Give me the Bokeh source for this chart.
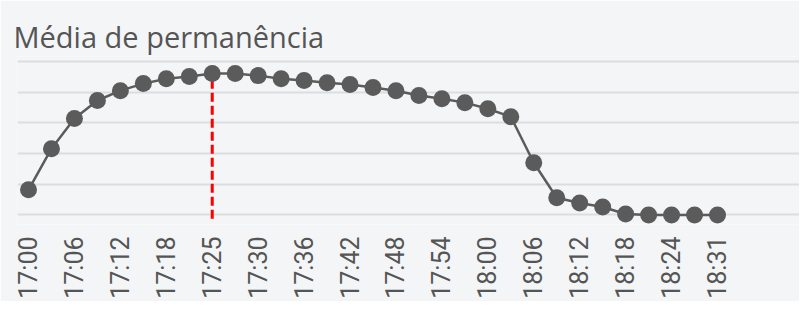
from bokeh.plotting import figure
from bokeh.models import FixedTicker, Range1d, ColumnDataSource
from bokeh.embed import file_html
from bokeh.resources import INLINE

# ---- data ----
subtitle = "Média de permanência"
tick_labels = ["17:00", "17:06", "17:12", "17:18", "17:25", "17:30", "17:36", "17:42",
               "17:48", "17:54", "18:00", "18:06", "18:12", "18:18", "18:24", "18:31"]
values = [8.2, 21.6, 31.4, 37.3, 40.5, 42.8, 44.4, 45.1, 46.1, 46.1, 45.4,
          44.4, 43.8, 43.1, 42.5, 41.5, 40.5, 38.9, 37.9, 36.6, 34.6, 32.0,
          17.0, 5.6, 3.9, 2.6, 0.3, 0.0, 0.0, 0.0, 0.0]
marker_index = 8  # 17:25
grid_values = [0, 10, 20, 30, 40, 50]

idx = list(range(len(values)))
tick_pos = idx[::2]

BG = "#f4f5f7"

p = figure(width=799, height=301, output_backend="svg", toolbar_location=None,
           x_range=Range1d(-0.479, 33.57), y_range=Range1d(-3.1, 51.63),
           min_border_left=17, min_border_right=0, min_border_top=56, min_border_bottom=0)
p.background_fill_color = BG
p.border_fill_color = BG
p.outline_line_color = None

p.title.text = subtitle
p.title.text_font = "Open Sans"
p.title.text_font_size = "29px"
p.title.text_font_style = "normal"
p.title.text_color = "#555555"
p.title.offset = -4
p.title.standoff = 2

p.yaxis.visible = False
p.xgrid.visible = False
p.ygrid.ticker = FixedTicker(ticks=grid_values)
p.ygrid.grid_line_color = "#dcdde0"
p.ygrid.grid_line_width = 2

ax = p.xaxis[0]
ax.ticker = FixedTicker(ticks=tick_pos)
ax.major_label_overrides = {i: t for i, t in zip(tick_pos, tick_labels)}
ax.major_label_orientation = 1.5707963
ax.axis_line_color = None
ax.major_tick_line_color = None
ax.minor_tick_line_color = None
ax.major_label_text_font = "Roboto"
ax.major_label_text_font_size = "25px"
ax.major_label_text_color = "#555555"
ax.major_label_standoff = 6

src = ColumnDataSource(dict(x=idx, y=values))
p.segment(x0=[marker_index], y0=[-1.2], x1=[marker_index], y1=[values[marker_index]],
          line_color="#ff0000", line_width=3, line_dash="9 4")
p.line("x", "y", source=src, line_color="#5b5b5b", line_width=2.5)
p.scatter("x", "y", source=src, size=17, fill_color="#5b5b5b", line_color=None)

open("out.html", "w").write(file_html(p, INLINE))
